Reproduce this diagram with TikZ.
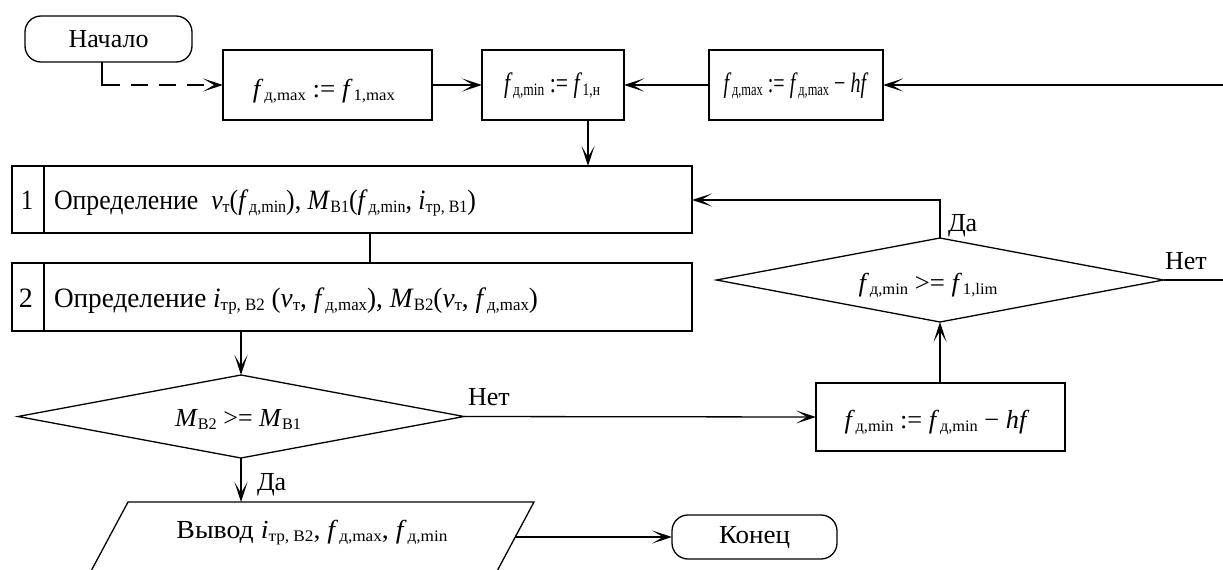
\documentclass[tikz,border=0pt]{standalone}
\usepackage{fontspec}
\setmainfont{Liberation Serif}
\usetikzlibrary{arrows.meta,shapes.geometric}
\newcommand\lo[1]{\raisebox{-0.3ex}{\scalebox{0.62}{#1}}}
\newcommand\ff{\textit{f}\kern0.03em}
\newcommand\mi[1]{\textit{#1}}
\newcommand\fw[2]{\resizebox{#1pt}{\height}{#2}}
\begin{document}
\begin{tikzpicture}[x=1pt,y=-1pt,line width=1.3pt,
  every node/.style={font=\fontsize{26}{30}\selectfont,inner sep=0pt,outer sep=0pt},
  box/.style={draw,rectangle},
  term/.style={draw,rectangle,rounded corners=16pt},
  dec/.style={draw,diamond},
  txt/.style={anchor=base},
  big/.style={font=\fontsize{28}{32}\selectfont},
  arr/.style={-{Stealth[length=20pt,width=13pt,inset=11pt]}}]
\useasboundingbox (0,0) rectangle (1223,570);
% top row
\node[term,minimum width=167pt,minimum height=46pt] (start) at (108.5,39) {\fw{80}{Начало}};
\node[box,minimum width=209pt,minimum height=70pt] (b1) at (327.5,85) {};
\node[txt] (b1t) at (324,97) {\fw{142}{\ff\lo{д,max} := \ff\lo{1,max}}};
\node[box,minimum width=142pt,minimum height=70pt] (b2) at (553,85) {};
\node[txt,big] (b2t) at (552,92) {\fw{96}{\ff\lo{д,min} := \ff\lo{1,н}}};
\node[box,minimum width=174pt,minimum height=70pt] (b3) at (796,85) {};
\node[txt,big] (b3t) at (796,92) {\fw{145}{\ff\lo{д,max} := \ff\lo{д,max} − \mi{hf}}};
% process rows
\node[box,minimum width=680pt,minimum height=67pt] (p1) at (352,199.5) {};
\node[anchor=base west,big] (p1t) at (54,209) {\fw{422}{Определение \ \mi{v}\lo{т}(\ff\lo{д,min}), \mi{M}\lo{В1}(\ff\lo{д,min}, \mi{i}\lo{тр, В1})}};
\node[anchor=base,big] (p1n) at (27,209) {\fw{12}{1}};
\draw ([xshift=32pt]p1.north west) -- ([xshift=32pt]p1.south west);
\node[box,minimum width=680pt,minimum height=68pt] (p2) at (352,297) {};
\node[anchor=base west,big] (p2t) at (54,307) {\fw{484}{Определение \mi{i}\lo{тр, В2} (\mi{v}\lo{т}, \ff\lo{д,max}), \mi{M}\lo{В2}(\mi{v}\lo{т}, \ff\lo{д,max})}};
\node[anchor=base,big] (p2n) at (26,307) {\fw{14}{2}};
\draw ([xshift=32pt]p2.north west) -- ([xshift=32pt]p2.south west);
% decisions
\node[dec,minimum width=446pt,minimum height=83pt] (d1) at (241,416.5) {};
\node[txt] (d1t) at (238,426) {\fw{126}{\mi{M}\lo{В2} >= \mi{M}\lo{В1}}};
\node[dec,minimum width=447pt,minimum height=84pt] (d2) at (940,280) {};
\node[txt] (d2t) at (928,291) {\fw{139}{\ff\lo{д,min} >= \ff\lo{1,lim}}};
\node[box,minimum width=249pt,minimum height=68pt] (b4) at (940.5,417) {};
\node[txt] (b4t) at (937,428) {\fw{185}{\ff\lo{д,min} := \ff\lo{д,min} − \mi{hf}}};
% output
\coordinate (pa) at (128,502);
\coordinate (pb) at (534,502);
\coordinate (pc) at (496,573);
\coordinate (pd) at (90,573);
\draw (pd) -- (pa) -- (pb) -- (pc) -- cycle;
\node[txt] (pt) at (312,538) {\fw{271}{Вывод \mi{i}\lo{тр, В2}, \ff\lo{д,max}, \ff\lo{д,min}}};
\coordinate (pr) at (515,537);
\node[term,minimum width=165pt,minimum height=44pt] (end) at (754.5,537) {\fw{71}{Конец}};
% labels
\node[anchor=base west] (l1) at (257,490) {Да};
\node[anchor=base west] (l2) at (468,405) {Нет};
\node[anchor=base west] (l3) at (948,231) {Да};
\node[anchor=base west] (l4) at (1165,269) {Нет};
% connectors
\coordinate (s1) at (102,85);
\coordinate (s2) at (120,85);
\draw (start.south -| s1) -- (s1) -- (s2);
\draw[arr,dash pattern=on 17pt off 11pt,dash phase=17pt] (s2) -- (b1.west);
\draw[arr] (b1.east) -- (b2.west);
\draw[arr] (b3.west) -- (b2.east);
\coordinate (rin) at (1223,85);
\draw[arr] (rin) -- (b3.east);
\coordinate (c1) at (588,0);
\draw[arr] (b2.south -| c1) -- (p1.north -| c1);
\coordinate (c2) at (370,0);
\draw (p1.south -| c2) -- (p2.north -| c2);
\draw[arr] (p2.south -| d1.north) -- (d1.north);
\draw[arr] (d1.south) -- (d1.south |- pa);
\draw[arr] (d1.east) -- (b4.west);
\draw[arr] (b4.north -| d2.south) -- (d2.south);
\coordinate (c4) at (0,200);
\draw[arr] (d2.north) -- (d2.north |- c4) -- (p1.east |- c4);
\coordinate (rout) at (1223,280);
\draw (d2.east) -- (rout);
\draw[arr] (pr) -- (end.west);
\end{tikzpicture}
\end{document}
